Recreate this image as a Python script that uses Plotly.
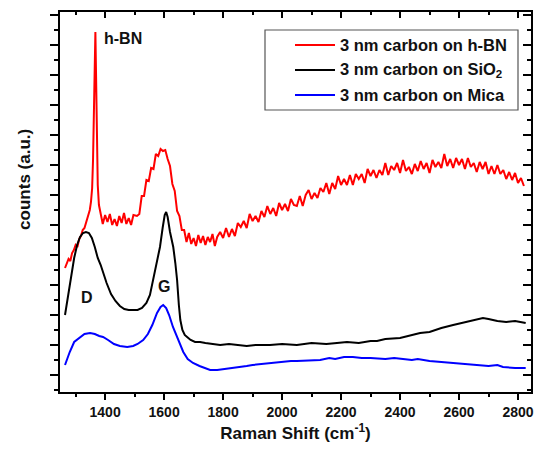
import plotly.graph_objects as go

# ---------------- data (Raman shift in cm^-1, counts in arbitrary units) ----------------
x_hbn = [1264, 1270, 1276, 1282, 1288, 1294, 1300, 1306, 1312, 1318, 1324, 1330, 1336, 1342, 1348,
         1352, 1356, 1359, 1362, 1365, 1367, 1369, 1372, 1375, 1379,
         1384, 1392, 1400, 1408, 1416, 1424, 1432, 1440, 1448, 1456, 1464, 1472, 1480, 1488, 1496,
         1508, 1516, 1524, 1532, 1540, 1548, 1556, 1564, 1572, 1580, 1588, 1596, 1604, 1612, 1620,
         1628, 1636, 1644, 1652, 1660, 1668, 1676, 1684, 1692, 1700, 1708, 1716, 1724, 1732, 1740,
         1748, 1756, 1764, 1772, 1780,
         1790, 1800, 1810, 1820, 1830, 1840, 1850, 1860, 1870, 1880, 1890, 1900, 1910, 1920, 1930,
         1940, 1950, 1960, 1970, 1980, 1990, 2000, 2010, 2020, 2030, 2040, 2050, 2060, 2070, 2080,
         2090, 2100, 2110, 2120, 2130, 2140, 2150, 2160, 2170, 2180, 2190, 2200, 2210, 2220, 2230,
         2240, 2250, 2260, 2270, 2280, 2290, 2300, 2310, 2320, 2330, 2340, 2350, 2360, 2370, 2380,
         2390, 2400, 2410, 2420, 2430, 2440, 2450, 2460, 2470, 2480, 2490, 2500, 2510, 2520, 2530,
         2540, 2550, 2560, 2570, 2580, 2590, 2600, 2610, 2620, 2630, 2640, 2650, 2660, 2670, 2680,
         2690, 2700, 2710, 2720, 2730, 2740, 2750, 2760, 2770, 2780, 2790, 2800, 2810, 2820]
y_hbn = [132, 136, 141, 139, 147, 150, 155, 153, 161, 164, 170, 172, 178, 183, 190,
         198, 212, 240, 300, 360, 368, 330, 260, 215, 195,
         188, 176, 185, 178, 186, 175, 181, 174, 184, 177, 187, 176, 182, 175, 185,
         184, 186, 204, 204, 220, 219, 232, 231, 246, 244, 251, 249, 250, 241, 234,
         216, 209, 189, 184, 170, 170, 158, 167, 156, 162, 154, 165, 157, 164, 155,
         163, 158, 166, 154, 163,
         168, 162, 172, 163, 171, 164, 177, 173, 179, 172, 186, 179, 184, 178, 189,
         183, 194, 186, 192, 184, 197, 190, 196, 189, 201, 195, 194, 204, 194, 205,
         210, 201, 207, 202, 212, 208, 217, 206, 217, 211, 224, 215, 221, 215, 225,
         215, 226, 221, 226, 217, 231, 224, 230, 222, 230, 225, 237, 225, 234, 230,
         237, 227, 240, 229, 233, 226, 236, 229, 239, 231, 237, 227, 240, 233, 238,
         232, 246, 234, 241, 232, 242, 235, 241, 231, 242, 233, 237, 228, 238, 231,
         238, 226, 234, 226, 235, 226, 230, 221, 228, 220, 227, 217, 222, 214]

x_sio2 = [1264, 1275, 1285, 1295, 1305, 1315, 1325, 1335, 1345, 1355, 1365, 1375, 1385, 1393, 1405,
          1420, 1435, 1450, 1465, 1480, 1495, 1510, 1525, 1540, 1552, 1563, 1575, 1586, 1595, 1602,
          1607, 1612, 1620, 1631, 1638, 1644, 1650, 1655, 1662, 1670, 1678, 1690, 1705, 1722, 1740,
          1760, 1790, 1820, 1850, 1880, 1910, 1959, 2000, 2050, 2100, 2150, 2186, 2220, 2260, 2300,
          2322, 2350, 2400, 2440, 2468, 2500, 2540, 2580, 2620, 2650, 2681, 2700, 2730, 2760, 2790,
          2826]
y_sio2 = [85, 105, 125, 142, 155, 163, 167, 168, 167, 162, 153, 142, 135, 127, 117,
          106, 99, 94, 91, 90, 90, 90, 92, 97, 105, 120, 137, 153, 172, 185,
          188, 183, 168, 153, 137, 120, 95, 80, 70, 65, 63, 60, 58, 58, 57,
          56, 55, 56, 55, 54, 55, 55, 56, 55, 57, 56, 57, 58, 57, 59,
          59, 61, 62, 65, 67, 68, 72, 75, 78, 80, 82, 81, 79, 78, 79,
          77]

x_mica = [1264, 1280, 1295, 1315, 1330, 1349, 1365, 1380, 1393, 1410, 1430, 1450, 1475, 1495, 1510,
          1529, 1545, 1560, 1576, 1588, 1597, 1607, 1617, 1630, 1642, 1654, 1665, 1680, 1698, 1720,
          1740, 1756, 1780, 1810, 1850, 1880, 1900, 1930, 1959, 2000, 2030, 2050, 2100, 2129, 2160,
          2180, 2210, 2240, 2270, 2300, 2350, 2380, 2410, 2440, 2460, 2500, 2540, 2580, 2620, 2660,
          2700, 2730, 2749, 2790, 2826]
y_mica = [35, 48, 58, 63, 66, 67, 66, 64, 63, 60, 56, 54, 53, 54, 56,
          60, 66, 75, 87, 93, 95, 92, 85, 73, 64, 57, 48, 41, 37, 34,
          32, 30, 30, 31, 33, 34, 35, 36, 37, 38, 39, 39, 40, 40, 42,
          41, 43, 43, 42, 42, 41, 42, 41, 40, 41, 39, 38, 37, 36, 35,
          34, 35, 33, 32, 32]

series_names = ["3 nm carbon on h-BN", "3 nm carbon on SiO<sub>2</sub>", "3 nm carbon on Mica"]
series_colors = ["#ff0000", "#000000", "#0000ff"]
x_ticks = [1400, 1600, 1800, 2000, 2200, 2400, 2600, 2800]

FONT = "Liberation Sans, Arial, sans-serif"
TXT = "#111111"

fig = go.Figure()
for xs, ys, nm, col in zip([x_hbn, x_sio2, x_mica], [y_hbn, y_sio2, y_mica], series_names, series_colors):
    fig.add_trace(go.Scatter(x=xs, y=ys, mode="lines", name=nm, showlegend=False,
                             line=dict(color=col, width=2), hoverinfo="x+y"))

# invisible trace to carry the mirrored top/right axes
fig.add_trace(go.Scatter(x=x_hbn, y=y_hbn, xaxis="x2", yaxis="y2", mode="lines",
                         line=dict(width=0), opacity=0, showlegend=False, hoverinfo="skip"))

xr = [1247, 2844]
yr = [8, 388]

fig.update_layout(
    width=534, height=452,
    margin=dict(l=60, r=3, t=12, b=60, autoexpand=False),
    paper_bgcolor="white", plot_bgcolor="white",
    font=dict(family=FONT, color=TXT),
    showlegend=False,
    xaxis=dict(range=xr, automargin=False, showgrid=False, zeroline=False, showline=True,
               linecolor="black", linewidth=2,
               ticks="outside", ticklen=6, tickwidth=2, tickcolor="black",
               tickvals=x_ticks, ticktext=[str(v) for v in x_ticks],
               minor=dict(dtick=100, tick0=1300, ticks="outside", ticklen=3, tickwidth=2, tickcolor="black"),
               tickfont=dict(family=FONT, size=14, weight="bold", color=TXT),
               title=dict(text="Raman Shift (cm<sup>-1</sup>)", standoff=8,
                          font=dict(family=FONT, size=17, weight="bold", color=TXT))),
    yaxis=dict(range=yr, automargin=False, showgrid=False, zeroline=False, showline=True,
               linecolor="black", linewidth=2,
               ticks="outside", ticklen=8, tickwidth=2, tickcolor="black",
               tick0=25, dtick=30, showticklabels=False,
               minor=dict(dtick=15, tick0=10, ticks="outside", ticklen=4, tickwidth=2, tickcolor="black")),
    xaxis2=dict(range=xr, automargin=False, overlaying="x", side="top", anchor="y", showgrid=False,
                zeroline=False, showline=True, linecolor="black", linewidth=2, ticks="inside",
                ticklen=6, tickwidth=2, tickcolor="black", tickvals=x_ticks, showticklabels=False,
                minor=dict(dtick=100, tick0=1300, ticks="inside", ticklen=3, tickwidth=2, tickcolor="black")),
    yaxis2=dict(range=yr, automargin=False, overlaying="y", side="right", anchor="x", showgrid=False,
                zeroline=False, showline=True, linecolor="black", linewidth=2, ticks="inside",
                ticklen=8, tickwidth=2, tickcolor="black", tick0=25, dtick=30, showticklabels=False,
                minor=dict(dtick=15, tick0=10, ticks="inside", ticklen=4, tickwidth=2, tickcolor="black")),
)

# ---- legend box (drawn like the original: long line sample, text right after it) ----
def px2paper(px, py):
    return (px - 60) / 471.0, (392 - py) / 380.0

bx0, by0 = px2paper(265, 30)
bx1, by1 = px2paper(518, 110)
fig.add_shape(type="rect", xref="paper", yref="paper", x0=bx0, y0=by1, x1=bx1, y1=by0,
              line=dict(color="#555555", width=1.2), fillcolor="white", layer="above")
row_py = [45, 70, 95]
for nm, col, rpy in zip(series_names, series_colors, row_py):
    lx0, ly = px2paper(295, rpy)
    lx1, _ = px2paper(335, rpy)
    tx, _ = px2paper(338, rpy)
    fig.add_shape(type="line", xref="paper", yref="paper", x0=lx0, x1=lx1, y0=ly, y1=ly,
                  line=dict(color=col, width=2), layer="above")
    fig.add_annotation(text=nm, xref="paper", yref="paper", x=tx, y=ly, showarrow=False,
                       xanchor="left", yanchor="middle",
                       font=dict(family=FONT, size=16.5, weight="bold", color=TXT))

# y axis title (as in the original, placed above the axis centre)
fig.add_annotation(text="counts (a.u.)", xref="paper", yref="paper", x=-0.075, y=0.56,
                   textangle=-90, showarrow=False, xanchor="center", yanchor="middle",
                   font=dict(family=FONT, size=17, weight="bold", color=TXT))

# peak labels
peak_labels = ["h-BN", "D", "G"]
peak_x = [1390, 1338, 1598]
peak_y = [362, 103, 114]
peak_anchor = ["left", "center", "center"]
for t, px, py, xa in zip(peak_labels, peak_x, peak_y, peak_anchor):
    fig.add_annotation(text=t, x=px, y=py, showarrow=False, xanchor=xa, yanchor="middle",
                       font=dict(family=FONT, size=16, weight="bold", color=TXT))

fig.write_html("out.html", config={"displayModeBar": False},
               post_script="document.body.style.margin='0';")
